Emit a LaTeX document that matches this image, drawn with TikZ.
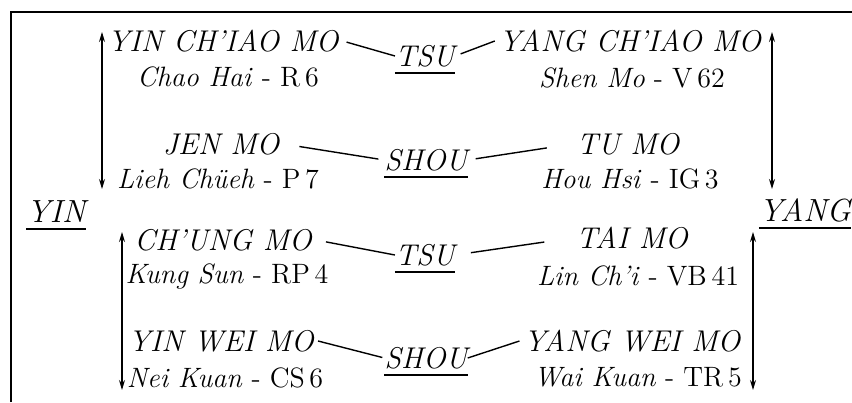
\documentclass[tikz,border=0pt]{standalone}
\usepackage{tikz}
\usetikzlibrary{arrows.meta}

\tikzset{
  vessel/.style={font=\fontsize{15}{18}\selectfont\itshape, inner sep=2pt, text height=10pt, text depth=0pt},
  ptbox/.style={font=\fontsize{14}{17}\selectfont, inner sep=2pt, text height=10pt, text depth=0pt},
  lab/.style={vessel, inner sep=0pt},
  side/.style={lab, font=\fontsize{16}{19}\selectfont\itshape},
  bothway/.style={{Stealth[length=5pt,width=3pt]}-{Stealth[length=5pt,width=3pt]}, line width=0.6pt},
  link/.style={line width=0.7pt}
}

\begin{document}
\begin{tikzpicture}[x=0.5pt,y=-0.5pt]
  \useasboundingbox (0,0) rectangle (852,402);
  \draw[line width=0.8pt] (11,402) |- (852,12);

  % upper half
  \node[vessel] (yqm) at (223,41) {YIN CH'IAO MO};
  \node[ptbox] (chh) at (228,76) {\textit{Chao Hai} - R\,6};
  \node[vessel] (jen) at (221,144) {JEN MO};
  \node[ptbox] (lie) at (218,178) {\textit{Lieh Chüeh} - P\,7};
  \node[lab] (tsa) at (425,56) {TSU};
  \node[lab] (sha) at (426,160) {SHOU};
  \node[vessel] (yqy) at (630,41) {YANG CH'IAO MO};
  \node[ptbox] (shm) at (632,77) {\textit{Shen Mo} - V\,62};
  \node[vessel] (tum) at (628,144) {TU MO};
  \node[ptbox] (hou) at (630,178) {\textit{Hou Hsi} - IG\,3};

  % lower half
  \node[vessel] (chu) at (223,240) {CH'UNG MO};
  \node[ptbox] (kun) at (227,273) {\textit{Kung Sun} - RP\,4};
  \node[vessel] (ywm) at (221,341) {YIN WEI MO};
  \node[ptbox] (nei) at (225,377) {\textit{Nei Kuan} - CS\,6};
  \node[lab] (tsb) at (425,255) {TSU};
  \node[lab] (shb) at (426,358) {SHOU};
  \node[vessel] (tai) at (632,238) {TAI MO};
  \node[ptbox] (lin) at (638,275) {\textit{Lin Ch'i} - VB\,41};
  \node[vessel] (yym) at (632,341) {YANG WEI MO};
  \node[ptbox] (wai) at (638,376) {\textit{Wai Kuan} - TR\,5};

  \node[side] (yin) at (56,212) {YIN};
  \node[side] (yang) at (805,211) {YANG};

  % underlines
  \foreach \n in {tsa,sha,tsb,shb,yin,yang}
    \draw[line width=0.6pt] ([yshift=-3.5pt]\n.base west) -- ([yshift=-3.5pt]\n.base east);

  % couplings
  \draw[link, shorten <=2pt] (yqm.east) -- (tsa.west);
  \draw[link, shorten <=3pt] (tsa.east) -- (yqy.west);
  \draw[link, shorten <=8pt, shorten >=3pt] (jen.east) -- (sha.west);
  \draw[link, shorten <=4pt, shorten >=13pt] (sha.east) -- (tum.west);
  \draw[link, shorten <=5pt] (chu.east) -- (tsb.west);
  \draw[link, shorten <=8pt, shorten >=14pt] (tsb.east) -- (tai.west);
  \draw[link, shorten >=1pt] (ywm.east) -- (shb.west);
  \draw[link] (shb.east) -- (yym.west);

  % vertical arrows
  \coordinate (ula) at (102,32);
  \coordinate (ulb) at (102,189);
  \coordinate (ura) at (772,32);
  \coordinate (urb) at (772,189);
  \coordinate (lla) at (122,232);
  \coordinate (llb) at (122,390);
  \coordinate (lra) at (753,232);
  \coordinate (lrb) at (753,390);
  \draw[bothway] (ula) -- (ulb);
  \draw[bothway] (ura) -- (urb);
  \draw[bothway] (lla) -- (llb);
  \draw[bothway] (lra) -- (lrb);
\end{tikzpicture}
\end{document}
